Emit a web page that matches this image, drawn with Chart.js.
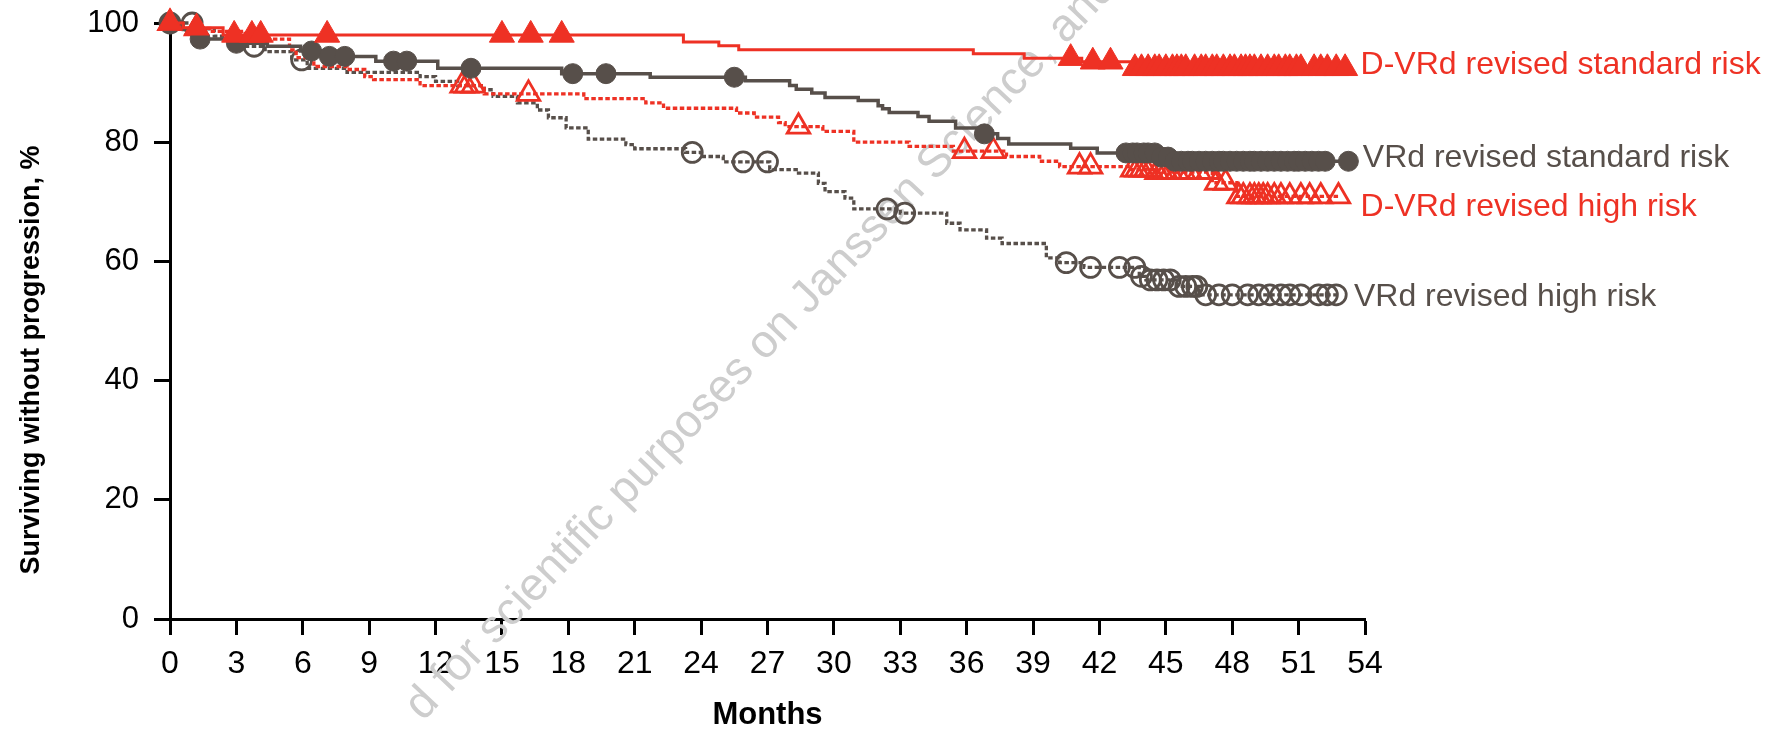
<!DOCTYPE html>
<html>
<head>
<meta charset="utf-8">
<script src="https://cdn.jsdelivr.net/npm/chart.js@4"></script>
<style>
    html, body { margin: 0; padding: 0; background: #fff; }
</style>
</head>
<body>
<canvas id="km" width="1775" height="729"></canvas>
<script>
// axis ticks
const monthTicks = [0, 3, 6, 9, 12, 15, 18, 21, 24, 27, 30, 33, 36, 39, 42, 45, 48, 51, 54]
const pctTicks = [0, 20, 40, 60, 80, 100]

// D-VRd revised standard risk: step times / survival (%), censor times
const dvrdStdTime = [0, 0.6, 2.4, 23.2, 24.8, 25.7, 36.3, 38.6, 41.2, 43.4, 53.2]
const dvrdStdSurv = [100, 99.2, 98.0, 96.8, 96.2, 95.5, 94.85, 94.1, 93.5, 92.4, 92.4]
const dvrdStdCensor = [0, 1.2, 2.9, 3.7, 4.1, 7.1, 15.0, 16.3, 17.7, 40.7, 41.7, 42.5,
    43.6, 43.9, 44.2, 44.5, 44.7, 45.0, 45.3, 45.5, 45.7, 45.9, 46.3, 46.6, 46.8, 47.1,
    47.3, 47.6, 47.9, 48.1, 48.4, 48.6, 48.8, 49.0, 49.3, 49.6, 49.9, 50.1, 50.4, 50.6,
    50.9, 51.1, 51.7, 52.0, 52.3, 52.7, 53.1]

// VRd revised standard risk
const vrdStdTime = [0, 0.6, 1.2, 2.7, 4.4, 5.9, 6.9, 9.3, 12.1, 17.7, 21.7, 26.0, 28.0,
    28.3, 29.0, 29.6, 31.1, 32.0, 32.2, 32.5, 33.8, 34.3, 35.5, 36.6, 37.4, 37.9, 40.7,
    41.9, 44.7, 45.3, 53.25]
const vrdStdSurv = [100, 98.9, 97.3, 96.6, 96.1, 95.3, 94.4, 93.6, 92.4, 91.5, 90.9, 90.3,
    89.5, 88.9, 88.25, 87.5, 87.0, 86.1, 85.6, 85.0, 84.3, 83.5, 82.4, 81.4, 80.6, 79.7,
    79.0, 78.2, 77.5, 76.8, 76.8]
const vrdStdCensor = [0, 1.36, 3.0, 6.4, 7.2, 7.9, 10.1, 10.7, 13.6, 18.2, 19.7, 25.5, 36.8,
    43.2, 43.5, 43.7, 44.0, 44.2, 44.5, 44.8, 45.1, 45.4, 45.7, 46.0, 46.2, 46.5, 46.8,
    47.1, 47.4, 47.6, 47.9, 48.2, 48.5, 48.8, 49.0, 49.3, 49.6, 49.9, 50.2, 50.5, 50.8,
    51.0, 51.3, 51.6, 51.9, 52.2, 53.25]

// D-VRd revised high risk
const dvrdHighTime = [0, 0.5, 1.8, 3.4, 5.4, 5.7, 6.5, 8.0, 8.8, 9.2, 11.3, 14.2, 18.7,
    21.5, 22.3, 25.6, 26.4, 27.5, 27.8, 29.5, 30.9, 33.4, 35.4, 37.8, 39.3, 40.2, 43.4,
    44.6, 47.1, 48.2, 52.8]
const dvrdHighSurv = [100, 99.1, 98.6, 97.3, 95.5, 94.2, 92.7, 92.2, 91.0, 90.5, 89.5, 88.1,
    87.3, 86.6, 85.7, 84.9, 84.2, 83.3, 82.6, 81.8, 80.0, 79.3, 78.5, 77.6, 76.8, 75.9,
    75.4, 75.0, 73.2, 70.9, 70.9]
const dvrdHighCensor = [0, 1.2, 13.2, 13.4, 13.7, 16.2, 28.4, 35.9, 37.2, 41.1, 41.6, 43.5,
    43.7, 43.9, 44.1, 44.3, 44.6, 44.8, 45.0, 45.2, 45.5, 45.8, 46.1, 46.5, 46.9, 47.3,
    47.7, 48.3, 48.5, 48.8, 49.0, 49.2, 49.4, 49.6, 49.9, 50.2, 50.6, 51.1, 51.5, 52.0, 52.8]

// VRd revised high risk
const vrdHighTime = [0, 1.1, 2.0, 3.0, 4.3, 5.5, 6.2, 8.0, 11.3, 12.0, 13.0, 14.2, 14.6,
    15.7, 16.6, 17.1, 17.9, 18.9, 20.6, 21.0, 23.3, 24.0, 25.0, 27.1, 28.4, 29.3, 29.6,
    30.5, 30.9, 33.0, 35.1, 35.7, 36.9, 37.6, 39.6, 40.2, 41.3, 43.8, 44.1, 45.5, 46.5, 52.7]
const vrdHighSurv = [100, 99.0, 97.8, 96.1, 95.2, 93.8, 92.4, 91.7, 91.0, 90.2, 89.5, 88.8,
    87.7, 86.6, 85.4, 84.1, 82.4, 80.5, 79.6, 78.9, 78.3, 77.6, 76.7, 75.4, 74.8, 73.1,
    71.7, 70.6, 68.8, 68.1, 66.4, 65.3, 63.9, 63.0, 60.6, 59.8, 59.0, 57.5, 56.9, 55.8,
    54.4, 54.4]
const vrdHighCensor = [0, 1.0, 3.8, 5.95, 23.6, 25.9, 27.0, 32.4, 33.2, 40.5, 41.6, 42.9,
    43.6, 43.9, 44.3, 44.6, 44.9, 45.2, 45.6, 45.9, 46.2, 46.4, 46.8, 47.4, 48.0, 48.7,
    49.2, 49.7, 50.2, 50.6, 51.1, 51.9, 52.3, 52.7]

const seriesNames = ['D-VRd revised standard risk', 'VRd revised standard risk',
    'D-VRd revised high risk', 'VRd revised high risk']
const watermarkText = 'd for scientific purposes on Janssen Science, and is'

const RED = '#ee3124'
const DARK = '#574f4a'
const FONT = "'Liberation Sans', Arial, sans-serif"

// value of a KM step curve at time t
function survAt(times, surv, t) {
    let v = surv[0]
    for (let i = 0; i < times.length; i++) {
        if (times[i] <= t) v = surv[i]
    }
    return v
}

const series = [
    { times: dvrdStdTime, surv: dvrdStdSurv, censor: dvrdStdCensor, color: RED, dash: [], width: 3,
        pointStyle: 'triangle', radius: 14.5, filled: true, labelAt: [53.8, 92.9] },
    { times: vrdStdTime, surv: vrdStdSurv, censor: vrdStdCensor, color: DARK, dash: [], width: 3.5,
        pointStyle: 'circle', radius: 10, filled: true, labelAt: [53.9, 77.4] },
    { times: dvrdHighTime, surv: dvrdHighSurv, censor: dvrdHighCensor, color: RED, dash: [4.5, 2.5], width: 3.3,
        pointStyle: 'triangle', radius: 13, filled: false, labelAt: [53.8, 69.1] },
    { times: vrdHighTime, surv: vrdHighSurv, censor: vrdHighCensor, color: DARK, dash: [4.5, 2.5], width: 3.3,
        pointStyle: 'circle', radius: 10, filled: false, labelAt: [53.5, 54.0] }
]

// first dataset is drawn on top, so keep the reference stacking order
const datasets = []
series.forEach((s, i) => {
    datasets.push({
        label: seriesNames[i] + ' censored',
        data: s.censor.map(t => ({ x: t, y: survAt(s.times, s.surv, t) })),
        showLine: false,
        clip: false,
        pointStyle: s.pointStyle,
        pointRadius: s.radius,
        pointHoverRadius: s.radius,
        pointBackgroundColor: s.filled ? s.color : 'rgba(0,0,0,0)',
        pointBorderColor: s.color,
        pointBorderWidth: s.filled ? 1 : 2.8
    })
    datasets.push({
        label: seriesNames[i],
        data: s.times.map((t, j) => ({ x: t, y: s.surv[j] })),
        stepped: true,
        clip: false,
        borderColor: s.color,
        borderWidth: s.width,
        borderDash: s.dash,
        pointRadius: 0,
        pointHoverRadius: 0,
        fill: false
    })
})

const textPlugin = {
    id: 'kmText',
    beforeDatasetsDraw(chart) {
        const ctx = chart.ctx
        ctx.save()
        ctx.fillStyle = '#cdcdcd'
        ctx.font = '46px ' + FONT
        ctx.translate(423, 722)
        ctx.rotate(-46.5 * Math.PI / 180)
        ctx.textAlign = 'left'
        ctx.textBaseline = 'alphabetic'
        ctx.fillText(watermarkText, 0, 0)
        ctx.restore()
    },
    afterDraw(chart) {
        const ctx = chart.ctx
        const xs = chart.scales.x
        const ys = chart.scales.y
        ctx.save()

        // y axis title
        ctx.fillStyle = '#000'
        ctx.font = 'bold 27px ' + FONT
        ctx.textAlign = 'center'
        ctx.textBaseline = 'middle'
        ctx.translate(32, 360)
        ctx.rotate(-Math.PI / 2)
        ctx.fillText('Surviving without progression, %', 0, 0)
        ctx.setTransform(1, 0, 0, 1, 0, 0)

        // series labels at the right end of each curve
        ctx.font = '32px ' + FONT
        ctx.textAlign = 'left'
        series.forEach((s, i) => {
            ctx.fillStyle = s.color
            ctx.fillText(seriesNames[i], xs.getPixelForValue(s.labelAt[0]), ys.getPixelForValue(s.labelAt[1]))
        })
        ctx.restore()
    }
}

Chart.defaults.font.family = FONT
Chart.defaults.color = '#000'

new Chart(document.getElementById('km'), {
    type: 'line',
    data: { datasets },
    options: {
        responsive: false,
        animation: false,
        events: [],
        layout: { padding: { left: 0, top: 23, right: 410, bottom: 0 } },
        plugins: {
            legend: { display: false },
            tooltip: { enabled: false }
        },
        scales: {
            x: {
                type: 'linear',
                min: 0,
                max: 54,
                afterBuildTicks: scale => { scale.ticks = monthTicks.map(v => ({ value: v })) },
                afterFit: scale => {
                    scale.height = 110
                    scale.paddingLeft = 0
                    scale.paddingRight = 0
                },
                ticks: { font: { size: 32 }, padding: 10, maxRotation: 0, autoSkip: false, color: '#000' },
                grid: { drawOnChartArea: false, drawTicks: true, tickLength: 16, tickWidth: 3, tickColor: '#000' },
                border: { display: true, color: '#000', width: 3 },
                title: {
                    display: true,
                    text: 'Months',
                    color: '#000',
                    font: { size: 31, weight: 'bold', lineHeight: 0.9 },
                    padding: { top: 0, bottom: 0 }
                }
            },
            y: {
                type: 'linear',
                min: 0,
                max: 100,
                afterBuildTicks: scale => { scale.ticks = pctTicks.map(v => ({ value: v })) },
                afterFit: scale => {
                    scale.width = 170
                    scale.paddingTop = 0
                    scale.paddingBottom = 0
                },
                ticks: { font: { size: 31 }, padding: 15, color: '#000' },
                grid: { drawOnChartArea: false, drawTicks: true, tickLength: 16, tickWidth: 3, tickColor: '#000' },
                border: { display: true, color: '#000', width: 3 }
            }
        }
    },
    plugins: [textPlugin]
})
</script>
</body>
</html>
